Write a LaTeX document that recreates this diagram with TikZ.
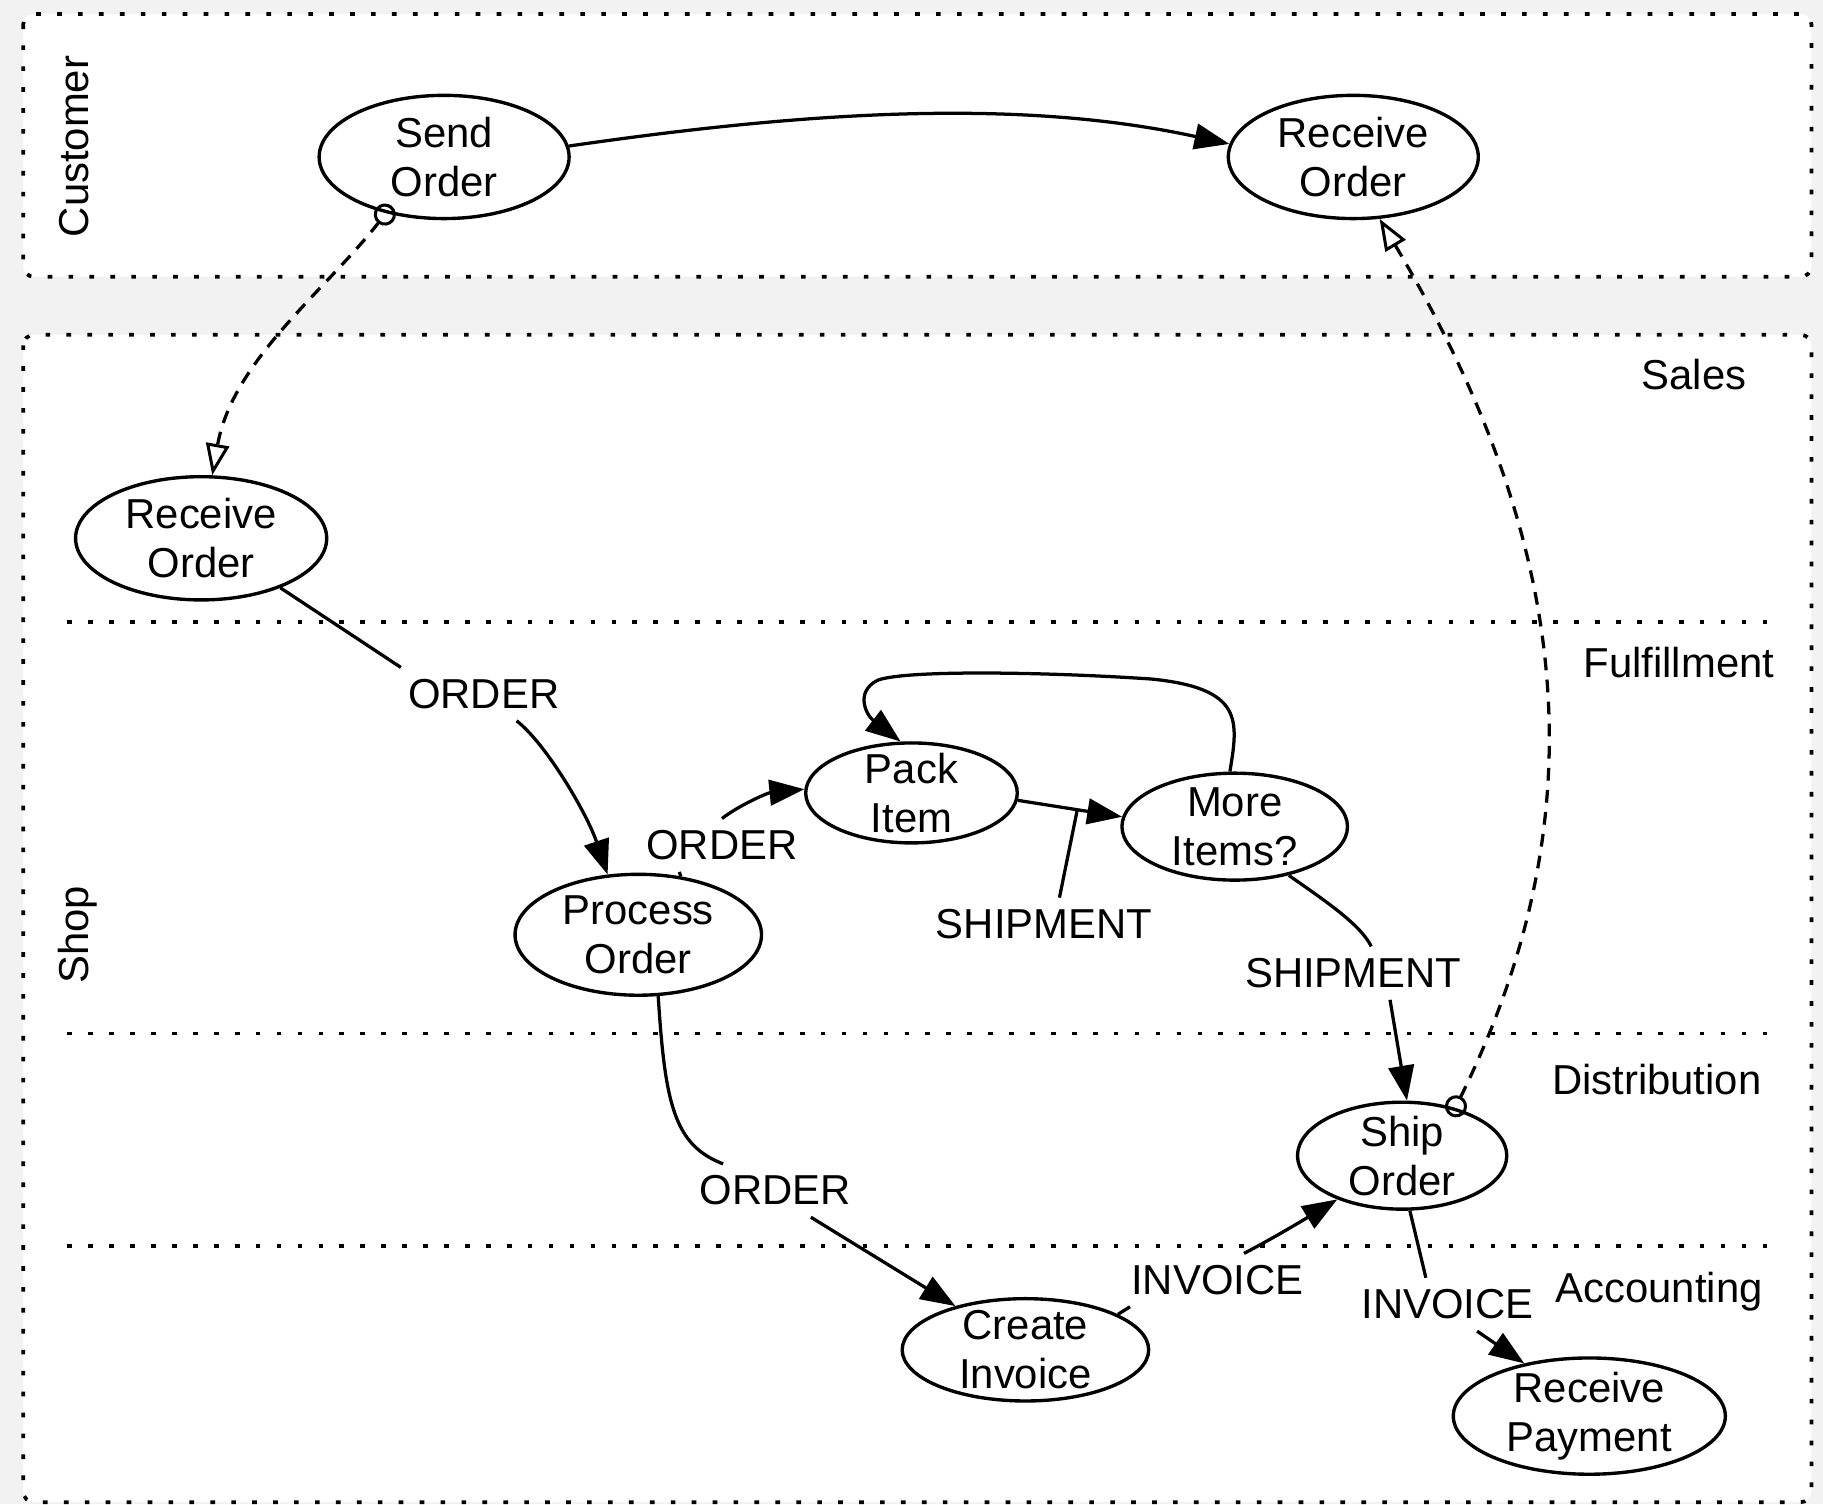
\documentclass[tikz,border=0pt]{standalone}
\usepackage{fontspec}
\setmainfont{Liberation Sans}
\usetikzlibrary{arrows.meta,shapes.geometric}
\definecolor{canvas}{HTML}{F2F2F2}
\begin{document}
\begin{tikzpicture}[x=1pt,y=-1pt,
  font=\fontsize{36}{42}\selectfont,
  lanebox/.style={draw, fill=white, line width=3.2pt, dash pattern=on 4pt off 14pt, rounded corners=9pt},
  lanesep/.style={draw, line width=3.2pt, dash pattern=on 4pt off 14pt},
  proc/.style={ellipse, draw, line width=2.9pt, inner xsep=0pt, inner ysep=-10pt, align=center},
  elabel/.style={rectangle, inner xsep=6pt, inner ysep=10pt},
  lanetext/.style={anchor=base},
  wire/.style={line width=2.8pt},
  flow/.style={wire, -{Triangle[length=30pt,width=22pt]}},
  msg/.style={wire, dash pattern=on 11pt off 8pt, shorten <=-8pt,
    {Circle[open,length=19pt,width=19pt,line width=2.6pt]}-{Triangle[open,length=27pt,width=20pt,line width=2.6pt]}},
]
% canvas and swimlanes
\fill[canvas] (0,0) rectangle (1568,1294);
\useasboundingbox (0,0) rectangle (1568,1294);
\path[lanebox] (20,12) rectangle (1558,238);
\path[lanebox] (20,288) rectangle (1558,1292);
\path[lanesep] (58,535) -- (1525,535);
\path[lanesep] (58,889) -- (1525,889);
\path[lanesep] (58,1072) -- (1525,1072);

% lane titles
\node[lanetext, rotate=90] (tcust) at (76,126) {Customer};
\node[lanetext, rotate=90] (tshop) at (76,804) {Shop};
\node[lanetext] (tsales) at (1457,335) {Sales};
\node[lanetext] (tful) at (1444,583) {Fulfillment};
\node[lanetext] (tdist) at (1425,941) {Distribution};
\node[lanetext] (tacc) at (1427,1120) {Accounting};

% activities
\node[proc, minimum width=215pt, minimum height=106pt] (so) at (382,135) {Send\\Order};
\node[proc, minimum width=215pt, minimum height=106pt] (ro1) at (1164,135) {Receive\\Order};
\node[proc, minimum width=216pt, minimum height=106pt] (rso) at (173,463) {Receive\\Order};
\node[proc, minimum width=212pt, minimum height=104pt] (po) at (549,804) {Process\\Order};
\node[proc, minimum width=182pt, minimum height=86pt] (pi) at (784,682) {Pack\\Item};
\node[proc, minimum width=194pt, minimum height=92pt] (mi) at (1062,711) {More\\Items?};
\node[proc, minimum width=180pt, minimum height=92pt] (so2) at (1206,994) {Ship\\Order};
\node[proc, minimum width=212pt, minimum height=88pt] (ci) at (882,1161) {Create\\Invoice};
\node[proc, minimum width=234pt, minimum height=100pt] (rp) at (1367,1218) {Receive\\Payment};

% data labels
\node[elabel] (lo1) at (416,597) {ORDER};
\node[elabel] (lo2) at (621,727) {ORDER};
\node[elabel] (ls1) at (898,795) {SHIPMENT};
\node[elabel] (ls2) at (1164,837) {SHIPMENT};
\node[elabel] (lo3) at (667,1024) {ORDER};
\node[elabel] (li1) at (1047,1101) {INVOICE};
\node[elabel] (li2) at (1245,1122) {INVOICE};

% customer flow and messages
\draw[flow] (so.5) .. controls (700,95) and (880,85) .. (ro1.174);
\draw[msg] (so.-136) .. controls (280,250) and (200,310) .. (rso.80);
\draw[msg] (so2.42) .. controls (1382,690) and (1345,455) .. (ro1.-67);

% shop flow
\draw[wire] (rso.-32) -- (lo1.north west);
\draw[flow] (lo1.-39) .. controls (470,640) and (505,700) .. (po.117);
\draw[wire] (po.54) -- (lo2.-148);
\draw[flow] (lo2.north) .. controls (635,693) and (660,682) .. (pi.178);
\draw[flow] (pi.-4) -- coordinate[pos=0.57] (m1) (mi.175);
\draw[wire] (m1) -- (ls1.60);
\draw[flow] (mi.95) .. controls (1065,620) and (1070,592) .. (990,584)
  .. controls (900,578) and (780,576) .. (755,585)
  .. controls (735,595) and (745,615) .. (pi.102);
\draw[wire] (mi.-42) .. controls (1140,775) and (1170,795) .. (ls2.56);
\draw[flow] (ls2.-36) -- (so2.85);
\draw[wire] (po.-72) .. controls (572,950) and (580,985) .. (lo3.153);
\draw[flow] (lo3.-37) -- (ci.148);
\draw[wire] (ci.21) -- (li1.-163);
\draw[flow] (li1.45) .. controls (1095,1065) and (1120,1050) .. (so2.-146);
\draw[wire] (so2.-82) -- (li2.129);
\draw[flow] (li2.-42) -- (rp.141);
\end{tikzpicture}
\end{document}
